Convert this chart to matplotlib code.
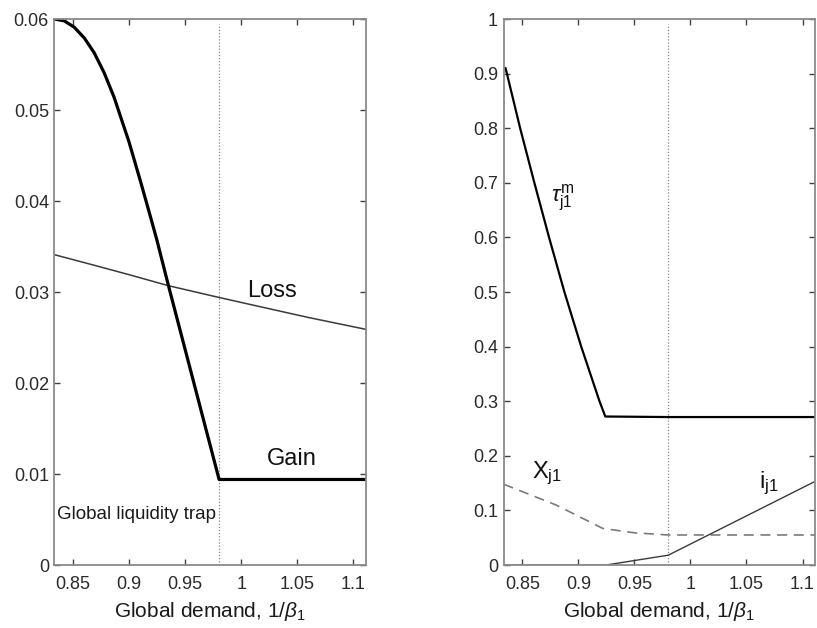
import matplotlib
matplotlib.use("Agg")
import matplotlib.pyplot as plt
import numpy as np

plt.rcParams['font.family'] = ['Liberation Sans', 'DejaVu Sans']
plt.rcParams['mathtext.fontset'] = 'custom'
plt.rcParams['mathtext.rm'] = 'Liberation Sans'
plt.rcParams['mathtext.it'] = 'Liberation Sans:italic'
plt.rcParams['mathtext.bf'] = 'Liberation Sans:bold'

# ---- data ----
x_lim = [0.8333, 1.1111]
trap_x = 0.9802

gain_x = [0.8333, 0.8420, 0.8509, 0.8600, 0.8687, 0.8776, 0.8865, 0.8930, 0.8998, 0.9050,
          0.9102, 0.9150, 0.9191, 0.9245, 0.9348, 0.9802, 1.1111]
gain_y = [0.0600, 0.0598, 0.0591, 0.0579, 0.0563, 0.0541, 0.0514, 0.0490, 0.0465, 0.0443,
          0.0421, 0.0400, 0.0382, 0.0358, 0.0308, 0.0094, 0.0094]

loss_x = [0.8333, 0.8700, 0.9000, 0.9348, 0.9802, 1.0200, 1.0600, 1.1111]
loss_y = [0.0341, 0.0329, 0.0319, 0.0307, 0.0294, 0.0283, 0.0272, 0.0259]

tau_x = [0.8333, 0.8350, 0.8480, 0.8607, 0.8738, 0.8875, 0.9025, 0.9188, 0.9240, 0.9802, 1.1111]
tau_y = [0.910, 0.910, 0.800, 0.700, 0.600, 0.500, 0.400, 0.300, 0.272, 0.271, 0.271]

xj_x = [0.8333, 0.8800, 0.9217, 0.9500, 0.9802, 1.1111]
xj_y = [0.148, 0.110, 0.067, 0.059, 0.055, 0.055]

ij_x = [0.8333, 0.9247, 0.9802, 1.1111]
ij_y = [0.000, 0.000, 0.018, 0.153]

xticks = [0.85, 0.9, 0.95, 1.0, 1.05, 1.1]
xtick_labels = ['0.85', '0.9', '0.95', '1', '1.05', '1.1']
left_yticks = [0, 0.01, 0.02, 0.03, 0.04, 0.05, 0.06]
left_ytick_labels = ['0', '0.01', '0.02', '0.03', '0.04', '0.05', '0.06']
right_yticks = [0, 0.1, 0.2, 0.3, 0.4, 0.5, 0.6, 0.7, 0.8, 0.9, 1.0]
right_ytick_labels = ['0', '0.1', '0.2', '0.3', '0.4', '0.5', '0.6', '0.7', '0.8', '0.9', '1']

xlabel = r'Global demand, 1/$\beta_{\mathrm{1}}$'

fig = plt.figure(figsize=(8.17, 6.28), dpi=100)
ax1 = fig.add_axes([0.0667, 0.1003, 0.381, 0.8694])
ax2 = fig.add_axes([0.6165, 0.1003, 0.381, 0.8694])

spine_col = '#8a8a8a'
tick_col = '#404040'
lab_col = '#2a2a2a'

def style(ax, yt, ytl, ylim):
    ax.set_xlim(x_lim)
    ax.set_ylim(ylim)
    ax.set_xticks(xticks)
    ax.set_xticklabels(xtick_labels)
    ax.set_yticks(yt)
    ax.set_yticklabels(ytl)
    ax.tick_params(direction='in', top=True, right=True, length=4, width=1,
                   color=tick_col, labelcolor=lab_col, labelsize=13)
    ax.tick_params(axis='x', pad=8)
    ax.tick_params(axis='y', pad=4)
    for s in ax.spines.values():
        s.set_color(spine_col)
        s.set_linewidth(1.3)
    ax.set_xlabel(xlabel, fontsize=15, color='#1a1a1a', labelpad=5)
    ax.axvline(trap_x, ymin=0, ymax=0.99, color='#888888', lw=0.9, ls=(0, (1, 1.5)))

style(ax1, left_yticks, left_ytick_labels, [0, 0.06])
style(ax2, right_yticks, right_ytick_labels, [0, 1])

# left panel
ax1.plot(loss_x, loss_y, color='#3a3a3a', lw=1.1)
ax1.plot(gain_x, gain_y, color='black', lw=2.3, solid_joinstyle='round')
ax1.text(1.0048, 0.0295, 'Loss', fontsize=17, ha='left', va='baseline', color='#111111')
ax1.text(1.0226, 0.0110, 'Gain', fontsize=17, ha='left', va='baseline', color='#111111')
ax1.text(0.8358, 0.0051, 'Global liquidity trap', fontsize=13.5, ha='left', va='baseline', color='#1a1a1a')

# right panel
ax2.plot(tau_x, tau_y, color='black', lw=1.6, solid_joinstyle='round')
ax2.plot(xj_x, xj_y, color='#7a7a7a', lw=1.2, ls=(0, (6, 4)))
ax2.plot(ij_x, ij_y, color='#3a3a3a', lw=1.0)
ax2.text(0.8752, 0.672, r'$\tau^{\mathrm{m}}_{\mathrm{j1}}$', fontsize=16, ha='left', va='center', color='#111111')
ax2.text(0.8590, 0.159, r'X$_{\mathrm{j1}}$', fontsize=17, ha='left', va='baseline', color='#111111')
ax2.text(1.0616, 0.141, r'i$_{\mathrm{j1}}$', fontsize=17, ha='left', va='baseline', color='#111111')

fig.savefig('out.png', dpi=100, facecolor='white')
